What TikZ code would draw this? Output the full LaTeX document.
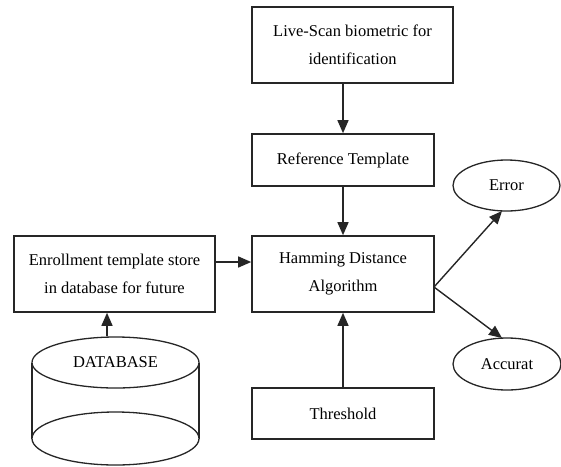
\documentclass[tikz,border=0pt]{standalone}
\usepackage{fontspec}
\setmainfont{Liberation Serif}
\usetikzlibrary{arrows.meta,shapes.geometric}
\begin{document}
\begin{tikzpicture}[x=1pt,y=-1pt,
  box/.style={draw=black!85,line width=1.6pt,rectangle,inner sep=0pt,align=center,font=\fontsize{16.5}{28}\selectfont},
  oval/.style={draw=black!85,line width=1.3pt,ellipse,inner sep=0pt,font=\fontsize{16.5}{28}\selectfont},
  conn/.style={draw=black!85,line width=1.4pt,-{Triangle[length=13pt,width=11pt]}}]
\useasboundingbox (0,0) rectangle (561,466);
\node[box,minimum width=201pt,minimum height=76pt] (live) at (352.5,45) {Live-Scan biometric for\\identification};
\node[box,minimum width=182pt,minimum height=52pt] (ref) at (343,160) {Reference Template};
\node[box,minimum width=182pt,minimum height=76pt] (ham) at (343,274) {Hamming Distance\\Algorithm};
\node[box,minimum width=182pt,minimum height=51pt] (thr) at (343,413.5) {Threshold};
\node[box,minimum width=201pt,minimum height=76pt] (enr) at (114.5,274) {Enrollment template store\\in database for future};
\node[oval,minimum width=107pt,minimum height=51pt] (err) at (506.5,185.5) {Error};
\node[oval,minimum width=108pt,minimum height=52pt] (acc) at (507,364) {Accurat};
% database cylinder
\coordinate (dbt) at (115.5,362.5);
\coordinate (dbb) at (115.5,438.5);
\draw[draw=black!85,line width=1.3pt] (32,362.5) -- (32,438.5) (199,362.5) -- (199,438.5);
\draw[draw=black!85,line width=1.3pt,fill=white] (dbb) ellipse [x radius=83.5pt,y radius=26.5pt];
\node[draw=black!85,line width=1.3pt,ellipse,fill=white,minimum width=167pt,minimum height=51pt,inner sep=0pt,font=\fontsize{16.5}{28}\selectfont] (db) at (dbt) {DATABASE};
% connectors
\draw[conn] (live.south -| ref) -- (ref.north);
\draw[conn] (ref.south) -- (ham.north);
\draw[conn] (thr.north) -- (ham.south);
\draw[conn] (enr.east |- 0,262) -- (ham.west |- 0,262);
\draw[conn] (db.north -| 107,0) -- (enr.south -| 107,0);
\coordinate (hr) at (434,287);
\draw[conn] (hr) -- (502,211);
\draw[conn] (hr) -- (502,338);
\end{tikzpicture}
\end{document}
